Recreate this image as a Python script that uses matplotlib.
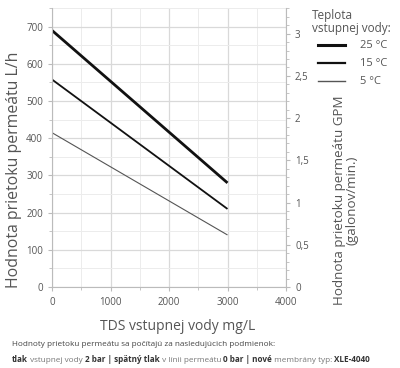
import matplotlib
matplotlib.use("Agg")
import matplotlib.pyplot as plt
from matplotlib.lines import Line2D
from matplotlib.ticker import MultipleLocator, FuncFormatter

plt.rcParams['font.family'] = ['Open Sans', 'DejaVu Sans']

# data
tds = [0, 3000]
flow_25 = [690, 280]
flow_15 = [558, 210]
flow_5 = [415, 140]
temps = ["25 °C", "15 °C", "5 °C"]
LPH_PER_GPM = 227.1

grey = "#555555"
fig = plt.figure(figsize=(4, 3.68), dpi=100)
ax = fig.add_axes([0.13, 0.22, 0.585, 0.758])

styles = [(2.0, "#111111"), (1.3, "#111111"), (0.8, "#555555")]
for vals, (lw, c) in zip([flow_25, flow_15, flow_5], styles):
    ax.plot(tds, vals, color=c, lw=lw, solid_capstyle="butt")

ax.set_xlim(0, 4000)
ax.set_ylim(0, 750)
ax.xaxis.set_major_locator(MultipleLocator(1000))
ax.xaxis.set_minor_locator(MultipleLocator(500))
ax.yaxis.set_major_locator(MultipleLocator(100))
ax.yaxis.set_minor_locator(MultipleLocator(50))
ax.grid(which="major", color="#d9d9d9", lw=0.9)
ax.grid(which="minor", color="#ececec", lw=0.7)
ax.set_axisbelow(True)
for s in ["top", "right"]:
    ax.spines[s].set_visible(False)
for s in ["left", "bottom"]:
    ax.spines[s].set_color("#bbbbbb")
ax.tick_params(which="both", colors="#bbbbbb", labelcolor=grey, labelsize=7, length=3)
ax.tick_params(which="minor", length=2)
ax.tick_params(axis="x", pad=4)

ax2 = ax.twinx()
ax2.set_ylim(0, 750 / LPH_PER_GPM)
ax2.yaxis.set_major_locator(MultipleLocator(0.5))
ax2.yaxis.set_minor_locator(MultipleLocator(0.1))
ax2.yaxis.set_major_formatter(FuncFormatter(lambda v, p: ("%g" % v).replace(".", ",")))
for s in ["top", "left", "bottom"]:
    ax2.spines[s].set_visible(False)
ax2.spines["right"].set_color("#bbbbbb")
ax2.tick_params(which="both", colors="#bbbbbb", labelcolor=grey, labelsize=7, length=3)
ax2.tick_params(which="minor", length=2)

fig.text(178 / 400, 1 - 327 / 368, "TDS vstupnej vody mg/L", fontsize=10,
         color=grey, ha="center", va="center")
fig.text(14 / 400, 1 - 170 / 368, "Hodnota prietoku permeátu L/h", fontsize=11.4,
         color=grey, rotation=90, ha="center", va="center")
fig.text(346 / 400, 1 - 200 / 368, "Hodnota prietoku permeátu GPM\n(galonov/min.)",
         fontsize=9.6, color=grey, rotation=90, ha="center", va="center",
         multialignment="center", linespacing=0.95)

# legend
fig.text(0.78, 0.975, "Teplota\nvstupnej vody:", fontsize=8.5, color=grey,
         va="top", ha="left", linespacing=1.0)
leg_w = [2.2, 1.6, 1.0]
for i, (lab, (lw, c)) in enumerate(zip(temps, styles)):
    y = 1 - (45 + i * 18) / 368
    fig.add_artist(Line2D([318 / 400, 345 / 400], [y, y], color=c, lw=leg_w[i],
                          transform=fig.transFigure))
    fig.text(360 / 400, y, lab, fontsize=8, color=grey, va="center", ha="left")

# footnote
fs = 5.9
parts = [("tlak", True), (" vstupnej vody ", False), ("2 bar | spätný tlak", True),
         (" v línii permeátu ", False), ("0 bar | nové", True),
         (" membrány typ: ", False), ("XLE-4040", True)]
fig.text(0.03, 1 - 344 / 368, "Hodnoty prietoku permeátu sa počítajú za nasledujúcich podmienok:",
         fontsize=fs, color="#444444", va="center")
prev = None
for txt, bold in parts:
    kw = dict(fontsize=fs, color="#333333" if bold else "#777777",
              fontweight="bold" if bold else "normal")
    if prev is None:
        prev = fig.text(0.03, 1 - 359 / 368, txt, va="center", **kw)
    else:
        prev = ax.annotate(txt, xy=(1, 0), xycoords=prev, va="bottom", ha="left",
                           annotation_clip=False, **kw)

fig.savefig("out.png", dpi=100)
